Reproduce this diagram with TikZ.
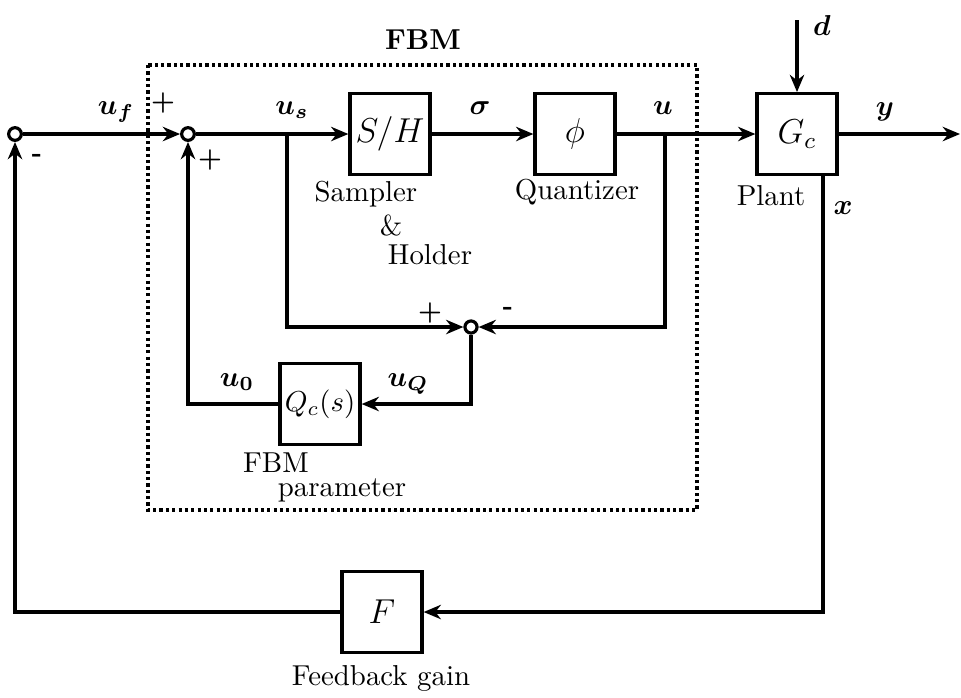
\documentclass[tikz,border=0pt]{standalone}
\usepackage{amsmath}
\usepackage{bm}
\usetikzlibrary{arrows.meta}
\begin{document}
\begin{tikzpicture}[x=0.347pt,y=-0.347pt,
  line width=1.1pt,
  arr/.style={-{Stealth[length=6pt,width=5pt]}},
  blk/.style={draw,minimum width=27.8pt,minimum height=28pt,inner sep=0pt,font=\large},
  sumbig/.style={draw,circle,minimum size=4.4pt,inner sep=0pt},
  sumsmall/.style={draw,circle,minimum size=4.2pt,inner sep=0pt},
  lab/.style={inner sep=0pt},
  sign/.style={inner sep=0pt,font=\small\bfseries},
  fbmbox/.style={line width=1.2pt,dash pattern=on 1.1pt off 1.1pt}]
\useasboundingbox (0,0) rectangle (961,697);
% dotted FBM box
\draw[fbmbox] (148,65) rectangle (697,510);
\node[lab,font=\bfseries] (fbmt) at (423,40) {FBM};
% nodes
\node[sumbig] (s1) at (15,134) {};
\node[sumbig] (s2) at (188,134) {};
\node[blk] (sh) at (390,134) {$S/H$};
\node[blk] (phi) at (575,134) {$\phi$};
\node[blk] (gc) at (797,134) {$G_c$};
\node[sumsmall] (s3) at (471,327) {};
\node[blk,font=\normalsize] (qc) at (320,404) {$Q_c(s)$};
\node[blk] (f) at (382,612) {$F$};
\coordinate (bs) at (287,134);
\coordinate (bu) at (665,134);
\coordinate (yout) at (960,134);
\coordinate (din) at (797,20);
\coordinate (xo) at (823,175);
% connectors
\draw[arr] (s1) -- (s2);
\draw[arr] (s2) -- (sh);
\draw[arr] (sh) -- (phi);
\draw[arr] (phi) -- (gc);
\draw[arr] (gc) -- (yout);
\draw[arr] (din) -- (gc);
\draw[arr] (bs) |- (s3);
\draw[arr] (bu) |- (s3);
\draw[arr] (s3) |- (qc);
\draw[arr] (qc) -| (s2);
\draw[arr] (xo) |- (f);
\draw[arr] (f) -| (s1);
% signal labels
\node[lab] (luf) at (116,112) {$\bm{u_f}$};
\node[lab] (lus) at (292,110) {$\bm{u_s}$};
\node[lab] (lsig) at (480,108) {$\bm{\sigma}$};
\node[lab] (lu) at (663,108) {$\bm{u}$};
\node[lab] (ly) at (885,112) {$\bm{y}$};
\node[lab] (ld) at (822,25) {$\bm{d}$};
\node[lab] (lx) at (843,208) {$\bm{x}$};
\node[lab] (lu0) at (237,382) {$\bm{u_0}$};
\node[lab] (luq) at (408,384) {$\bm{u_Q}$};
% signs
\node[sign] (p1) at (163,103) {+};
\node[sign] (m1) at (37,158) {-};
\node[sign] (p2) at (210,160) {+};
\node[sign] (p3) at (430,313) {+};
\node[sign] (m3) at (508,311) {-};
% block captions
\node[lab] (tsam) at (366,194) {Sampler};
\node[lab] (tamp) at (391,225) {\&};
\node[lab] (thol) at (430,255) {Holder};
\node[lab] (tq) at (577,192) {Quantizer};
\node[lab] (tpl) at (771,196) {Plant};
\node[lab] (tfbm) at (276,463) {FBM};
\node[lab] (tpar) at (342,490) {parameter};
\node[lab] (tfg) at (381,678) {Feedback gain};
\end{tikzpicture}
\end{document}
